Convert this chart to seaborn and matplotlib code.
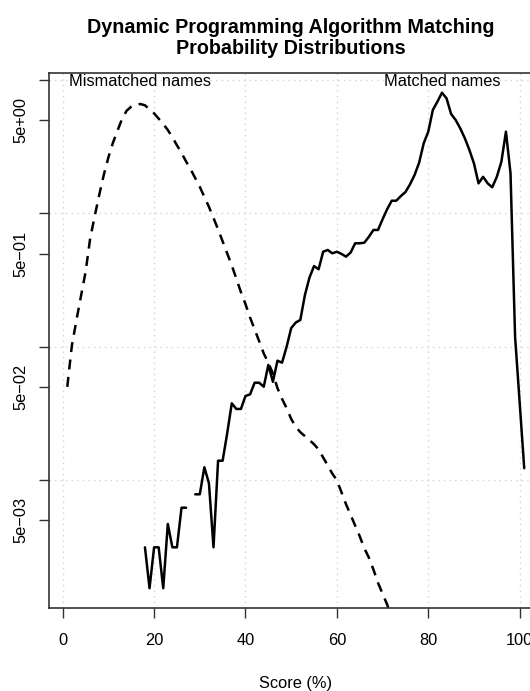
import numpy as np
import pandas as pd
import seaborn as sns
import matplotlib.pyplot as plt

# skor dan probabilitas (persen) untuk nama yang tidak cocok (garis putus-putus)
mismatched_score = np.arange(1, 73)
mismatched_prob = [
    0.0501, 0.102, 0.158, 0.240, 0.363, 0.646, 0.955, 1.38, 1.95, 2.63,
    3.39, 4.17, 5.13, 5.89, 6.31, 6.53, 6.61, 6.46, 6.03, 5.62,
    5.13, 4.68, 4.22, 3.72, 3.24, 2.84, 2.45, 2.14, 1.84, 1.58,
    1.33, 1.12, 0.923, 0.759, 0.617, 0.501, 0.407, 0.324, 0.257, 0.209,
    0.166, 0.135, 0.110, 0.0891, 0.0759, 0.0631, 0.0490, 0.0407, 0.0347, 0.0288,
    0.0251, 0.0229, 0.0214, 0.0200, 0.0186, 0.0170, 0.0148, 0.0129, 0.0112, 0.0100,
    0.00813, 0.00661, 0.00550, 0.00457, 0.00380, 0.00309, 0.00263, 0.00214, 0.00170, 0.00141,
    0.00117, 0.000933,
]

# skor dan probabilitas untuk nama yang cocok (garis solid), NaN = tidak ada data
matched_score = np.arange(18, 102)
matched_prob = [
    0.00314, 0.00155, 0.00314, 0.00314, 0.00155, 0.0047, 0.00314, 0.00314, 0.00622, 0.00622,
    np.nan, 0.00784, 0.00784, 0.0125, 0.0095, 0.00314, 0.0140, 0.0140, 0.0225, 0.0377,
    0.0342, 0.0342, 0.0428, 0.0440, 0.0538, 0.0538, 0.0502, 0.0731, 0.0547, 0.0787,
    0.0760, 0.100, 0.138, 0.152, 0.159, 0.244, 0.330, 0.403, 0.381, 0.516,
    0.532, 0.502, 0.516, 0.497, 0.474, 0.508, 0.597, 0.597, 0.603, 0.668,
    0.751, 0.751, 0.904, 1.074, 1.245, 1.245, 1.349, 1.445, 1.65, 1.94,
    2.40, 3.35, 4.10, 5.96, 6.88, 8.03, 7.29, 5.56, 5.01, 4.34,
    3.66, 2.99, 2.37, 1.68, 1.88, 1.68, 1.57, 1.88, 2.44, 4.10,
    2.00, 0.119, 0.0384, 0.0123,
]

ytick_vals = [10, 5, 1, 0.5, 0.1, 0.05, 0.01, 0.005]
ytick_labels = ["", "5e+00", "", "5e\u221201", "", "5e\u221202", "", "5e\u221203"]
xtick_vals = [0, 20, 40, 60, 80, 100]
grid_y = [10, 1, 0.1, 0.01]

# 1 | canvas
sns.set_style("white")
plt.rcParams["font.family"] = ["Liberation Sans", "DejaVu Sans"]
plt.rcParams.update({"text.color": "black", "axes.labelcolor": "black",
                     "xtick.color": "black", "ytick.color": "black"})
fig = plt.figure(figsize=(5.3, 6.91), dpi=100)
ax = fig.add_axes([49 / 530, 83 / 691, 493.5 / 530, 534.7 / 691])
ax.set_yscale("log")

# 2 | grid titik-titik
for gx in xtick_vals:
    ax.axvline(gx, color="#d3d3d3", lw=1, ls=(0, (1, 3)), zorder=0)
for gy in grid_y:
    ax.axhline(gy, color="#d3d3d3", lw=1, ls=(0, (1, 3)), zorder=0)

# 3 | garis distribusi
df_mis = pd.DataFrame({"score": mismatched_score, "prob": mismatched_prob})
sns.lineplot(data=df_mis, x="score", y="prob", color="black", lw=1.8,
             linestyle=(0, (4, 3)), ax=ax)

df_mat = pd.DataFrame({"score": matched_score, "prob": matched_prob})
df_mat["run"] = df_mat["prob"].isna().cumsum()
df_mat = df_mat.dropna()
sns.lineplot(data=df_mat, x="score", y="prob", units="run", estimator=None,
             color="black", lw=1.8, ax=ax)

# 4 | label di puncak tiap kurva
pk_mis = df_mis.loc[df_mis["prob"].idxmax(), "score"]
pk_mat = df_mat.loc[df_mat["prob"].idxmax(), "score"]
ax.text(pk_mis, 10, "Mismatched names", ha="center", va="center_baseline", fontsize=11.8)
ax.text(pk_mat, 10, "Matched names", ha="center", va="center_baseline", fontsize=11.8)

# 5 | sumbu
ax.set_xlim(-3, 105)
ax.set_ylim(10 ** -2.958, 10 ** 1.0502)
ax.set_xticks(xtick_vals)
ax.set_xticklabels([str(v) for v in xtick_vals], fontsize=11.8)
ax.set_yticks(ytick_vals)
ax.set_yticklabels(ytick_labels, fontsize=11.8, rotation=90, va="center")
ax.minorticks_off()
ax.tick_params(axis="both", which="major", bottom=True, left=True, direction="out",
               length=7, width=1, color="#333333")
ax.tick_params(axis="x", pad=11)
ax.tick_params(axis="y", pad=8)
ax.set_xlabel("Score (%)", fontsize=11.8, labelpad=20)
ax.set_ylabel("")
for side in ["left", "top", "bottom", "right"]:
    ax.spines[side].set_color("#333333")
    ax.spines[side].set_linewidth(1.2)

ax.set_title("Dynamic Programming Algorithm Matching\nProbability Distributions",
             fontsize=14.2, fontweight="bold", pad=14, linespacing=1.1, x=0.49)

fig.savefig("out.png", dpi=100)
plt.close(fig)
